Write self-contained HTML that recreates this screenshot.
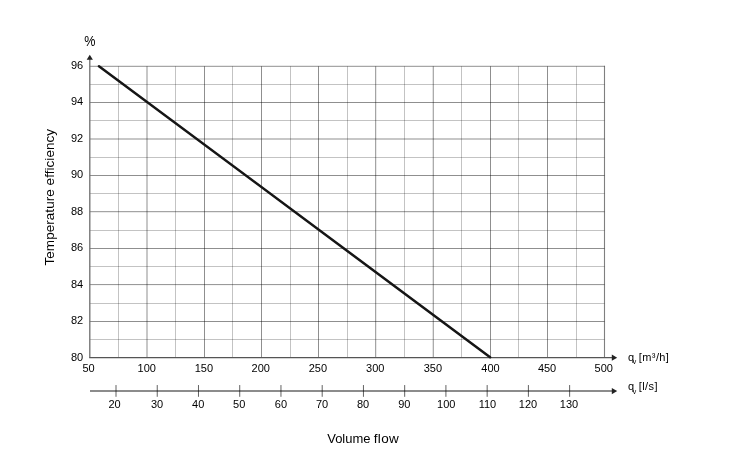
<!DOCTYPE html>
<html><head><meta charset="utf-8"><style>
html,body{margin:0;padding:0;background:#fff;width:750px;height:468px;overflow:hidden}
svg{display:block;will-change:transform}
text{font-family:"Liberation Sans",sans-serif;font-size:11px;fill:#000}
</style></head><body>
<svg width="750" height="468" viewBox="0 0 750 468">
<rect width="750" height="468" fill="#fff"/>
<line x1="118.5" y1="66.3" x2="118.5" y2="357.55" stroke="rgba(0,0,0,0.235)"/>
<line x1="175.5" y1="66.3" x2="175.5" y2="357.55" stroke="rgba(0,0,0,0.235)"/>
<line x1="232.5" y1="66.3" x2="232.5" y2="357.55" stroke="rgba(0,0,0,0.235)"/>
<line x1="290.5" y1="66.3" x2="290.5" y2="357.55" stroke="rgba(0,0,0,0.235)"/>
<line x1="347.5" y1="66.3" x2="347.5" y2="357.55" stroke="rgba(0,0,0,0.235)"/>
<line x1="404.5" y1="66.3" x2="404.5" y2="357.55" stroke="rgba(0,0,0,0.235)"/>
<line x1="461.5" y1="66.3" x2="461.5" y2="357.55" stroke="rgba(0,0,0,0.235)"/>
<line x1="518.5" y1="66.3" x2="518.5" y2="357.55" stroke="rgba(0,0,0,0.235)"/>
<line x1="576.5" y1="66.3" x2="576.5" y2="357.55" stroke="rgba(0,0,0,0.235)"/>
<line x1="89.8" y1="84.5" x2="604.5" y2="84.5" stroke="rgba(0,0,0,0.235)"/>
<line x1="89.8" y1="120.5" x2="604.5" y2="120.5" stroke="rgba(0,0,0,0.235)"/>
<line x1="89.8" y1="157.5" x2="604.5" y2="157.5" stroke="rgba(0,0,0,0.235)"/>
<line x1="89.8" y1="193.5" x2="604.5" y2="193.5" stroke="rgba(0,0,0,0.235)"/>
<line x1="89.8" y1="230.5" x2="604.5" y2="230.5" stroke="rgba(0,0,0,0.235)"/>
<line x1="89.8" y1="266.5" x2="604.5" y2="266.5" stroke="rgba(0,0,0,0.235)"/>
<line x1="89.8" y1="303.5" x2="604.5" y2="303.5" stroke="rgba(0,0,0,0.235)"/>
<line x1="89.8" y1="339.5" x2="604.5" y2="339.5" stroke="rgba(0,0,0,0.235)"/>
<line x1="147.0" y1="66.3" x2="147.0" y2="357.55" stroke="rgba(0,0,0,0.44)"/>
<line x1="204.5" y1="66.3" x2="204.5" y2="357.55" stroke="rgba(0,0,0,0.44)"/>
<line x1="261.5" y1="66.3" x2="261.5" y2="357.55" stroke="rgba(0,0,0,0.44)"/>
<line x1="318.5" y1="66.3" x2="318.5" y2="357.55" stroke="rgba(0,0,0,0.44)"/>
<line x1="375.7" y1="66.3" x2="375.7" y2="357.55" stroke="rgba(0,0,0,0.44)"/>
<line x1="433.25" y1="66.3" x2="433.25" y2="357.55" stroke="rgba(0,0,0,0.44)"/>
<line x1="490.5" y1="66.3" x2="490.5" y2="357.55" stroke="rgba(0,0,0,0.44)"/>
<line x1="547.5" y1="66.3" x2="547.5" y2="357.55" stroke="rgba(0,0,0,0.44)"/>
<line x1="89.8" y1="66.3" x2="604.5" y2="66.3" stroke="rgba(0,0,0,0.44)"/>
<line x1="89.8" y1="102.5" x2="604.5" y2="102.5" stroke="rgba(0,0,0,0.44)"/>
<line x1="89.8" y1="139.0" x2="604.5" y2="139.0" stroke="rgba(0,0,0,0.44)"/>
<line x1="89.8" y1="175.5" x2="604.5" y2="175.5" stroke="rgba(0,0,0,0.44)"/>
<line x1="89.8" y1="211.7" x2="604.5" y2="211.7" stroke="rgba(0,0,0,0.44)"/>
<line x1="89.8" y1="248.5" x2="604.5" y2="248.5" stroke="rgba(0,0,0,0.44)"/>
<line x1="89.8" y1="284.6" x2="604.5" y2="284.6" stroke="rgba(0,0,0,0.44)"/>
<line x1="89.8" y1="321.5" x2="604.5" y2="321.5" stroke="rgba(0,0,0,0.44)"/>
<line x1="604.5" y1="65.8" x2="604.5" y2="357.55" stroke="rgba(0,0,0,0.5)" stroke-width="1.1"/>
<line x1="89.8" y1="357.55" x2="89.8" y2="58" stroke="#6e6e6e" stroke-width="1.3"/>
<path d="M86.70 59.7 L89.80 54.7 L92.90 59.7 Z" fill="#222"/>
<line x1="89.2" y1="357.55" x2="612" y2="357.55" stroke="#555" stroke-width="1.2"/>
<path d="M611.8 354.45 L617.2 357.65 L611.8 360.75 Z" fill="#222"/>
<line x1="90" y1="391.0" x2="612" y2="391.0" stroke="rgba(0,0,0,0.45)" stroke-width="2"/>
<path d="M611.8 387.90 L617.2 391.10 L611.8 394.20 Z" fill="#222"/>
<line x1="116.00" y1="385.05" x2="116.00" y2="396.8" stroke="rgba(0,0,0,0.62)" stroke-width="1"/>
<line x1="157.24" y1="385.05" x2="157.24" y2="396.8" stroke="rgba(0,0,0,0.62)" stroke-width="1"/>
<line x1="198.48" y1="385.05" x2="198.48" y2="396.8" stroke="rgba(0,0,0,0.62)" stroke-width="1"/>
<line x1="239.72" y1="385.05" x2="239.72" y2="396.8" stroke="rgba(0,0,0,0.62)" stroke-width="1"/>
<line x1="280.96" y1="385.05" x2="280.96" y2="396.8" stroke="rgba(0,0,0,0.62)" stroke-width="1"/>
<line x1="322.20" y1="385.05" x2="322.20" y2="396.8" stroke="rgba(0,0,0,0.62)" stroke-width="1"/>
<line x1="363.44" y1="385.05" x2="363.44" y2="396.8" stroke="rgba(0,0,0,0.62)" stroke-width="1"/>
<line x1="404.68" y1="385.05" x2="404.68" y2="396.8" stroke="rgba(0,0,0,0.62)" stroke-width="1"/>
<line x1="445.92" y1="385.05" x2="445.92" y2="396.8" stroke="rgba(0,0,0,0.62)" stroke-width="1"/>
<line x1="487.16" y1="385.05" x2="487.16" y2="396.8" stroke="rgba(0,0,0,0.62)" stroke-width="1"/>
<line x1="528.40" y1="385.05" x2="528.40" y2="396.8" stroke="rgba(0,0,0,0.62)" stroke-width="1"/>
<line x1="569.64" y1="385.05" x2="569.64" y2="396.8" stroke="rgba(0,0,0,0.62)" stroke-width="1"/>
<line x1="98.96" y1="66.20" x2="490.12" y2="357.24" stroke="#151515" stroke-width="2.5" stroke-linecap="round"/>
<text x="83.2" y="360.95" text-anchor="end">80</text>
<text x="83.2" y="323.85" text-anchor="end">82</text>
<text x="83.2" y="287.85" text-anchor="end">84</text>
<text x="83.2" y="250.85" text-anchor="end">86</text>
<text x="83.2" y="214.85" text-anchor="end">88</text>
<text x="83.2" y="177.70" text-anchor="end">90</text>
<text x="83.2" y="141.65" text-anchor="end">92</text>
<text x="83.2" y="104.95" text-anchor="end">94</text>
<text x="83.2" y="68.85" text-anchor="end">96</text>
<text x="88.61" y="372.2" text-anchor="middle">50</text>
<text x="146.75" y="372.2" text-anchor="middle">100</text>
<text x="203.89" y="372.2" text-anchor="middle">150</text>
<text x="260.77" y="372.2" text-anchor="middle">200</text>
<text x="317.86" y="372.2" text-anchor="middle">250</text>
<text x="375.20" y="372.2" text-anchor="middle">300</text>
<text x="432.84" y="372.2" text-anchor="middle">350</text>
<text x="490.52" y="372.2" text-anchor="middle">400</text>
<text x="547.06" y="372.2" text-anchor="middle">450</text>
<text x="603.80" y="372.2" text-anchor="middle">500</text>
<text x="114.55" y="408.2" text-anchor="middle">20</text>
<text x="157.00" y="408.2" text-anchor="middle">30</text>
<text x="198.15" y="408.2" text-anchor="middle">40</text>
<text x="239.20" y="408.2" text-anchor="middle">50</text>
<text x="280.90" y="408.2" text-anchor="middle">60</text>
<text x="322.10" y="408.2" text-anchor="middle">70</text>
<text x="363.05" y="408.2" text-anchor="middle">80</text>
<text x="404.35" y="408.2" text-anchor="middle">90</text>
<text x="446.20" y="408.2" text-anchor="middle">100</text>
<text x="487.40" y="408.2" text-anchor="middle">110</text>
<text x="528.05" y="408.2" text-anchor="middle">120</text>
<text x="569.05" y="408.2" text-anchor="middle">130</text>
<text transform="translate(84.3 45.6) scale(0.9 1)" style="font-size:14px">%</text>
<text x="628" y="361.0">q</text>
<text x="632.8" y="364.2" style="font-size:7px">v</text>
<text x="638.8" y="361.0" style="letter-spacing:0.4px">[m³/h]</text>
<text x="628" y="390.4">q</text>
<text x="632.8" y="393.59999999999997" style="font-size:7px">v</text>
<text x="638.8" y="390.4" style="letter-spacing:0.4px">[l/s]</text>
<text x="327.2" y="442.6" style="font-size:13.5px" textLength="43.3" lengthAdjust="spacingAndGlyphs">Volume</text>
<text x="373.8" y="442.6" style="font-size:13.5px;letter-spacing:0.3px">flow</text>
<text transform="translate(53.75 197.2) rotate(-90)" style="font-size:13.5px;letter-spacing:0.05px" text-anchor="middle">Temperature efficiency</text>
</svg>
</body></html>
